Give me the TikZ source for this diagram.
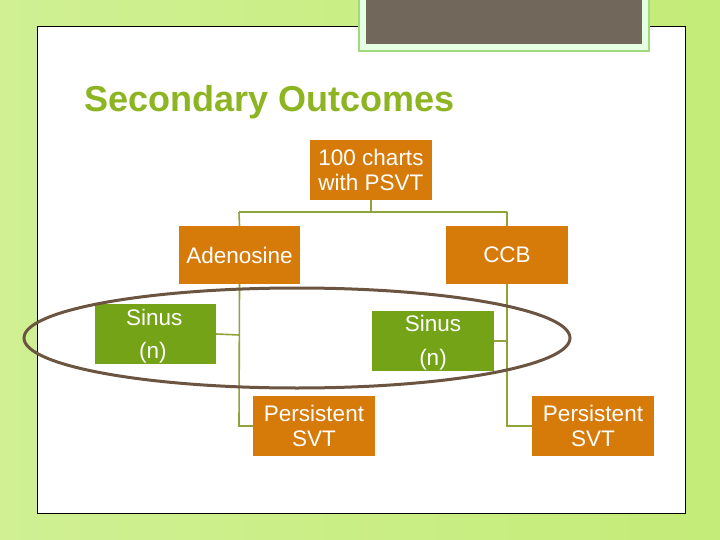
\documentclass[tikz,border=0pt]{standalone}
\usepackage{fontspec}
\setmainfont{Liberation Sans}
\begin{document}
\begin{tikzpicture}[x=1pt,y=-1pt,
  box/.style={fill=orng,text=white,inner sep=0pt,align=center,font=\fontsize{22.5}{25}\selectfont},
  gbox/.style={fill=grn,text=white,inner sep=0pt,align=center,font=\fontsize{22.5}{25}\selectfont},
  lbl/.style={font=\fontsize{22.5}{25}\selectfont,text=white,inner sep=0pt},
  conn/.style={draw=lnc,line width=1.6pt}]
\definecolor{orng}{HTML}{D67A0A}
\definecolor{grn}{HTML}{74A317}
\definecolor{lnc}{HTML}{8EA33A}
\definecolor{bgg}{HTML}{C4EC78}
\definecolor{ttl}{HTML}{8DB421}
\definecolor{dk}{HTML}{71675A}
\definecolor{ell}{HTML}{6B5540}
\useasboundingbox (0,0) rectangle (720,540);
\shade[left color=bgg!80!white,right color=bgg] (0,0) rectangle (720,540);
\fill[white,draw=black,line width=1pt] (37,27) rectangle (685,513);
\fill[lnc!70!green!60!white] (358,-2) rectangle (650,52);
\fill[white!90!green] (360,-2) rectangle (648,50);
\fill[dk] (366,-2) rectangle (642,44);
\node[anchor=west,text=ttl,font=\bfseries\fontsize{36}{40}\selectfont,inner sep=0pt] (title) at (84,102) {Secondary Outcomes};
\node[box,minimum width=122,minimum height=60] (top) at (371,170) {100 charts\\with PSVT};
\node[box,minimum width=121,minimum height=58] (ad) at (239.5,255) {Adenosine};
\node[box,minimum width=122,minimum height=58] (ccb) at (507,255) {CCB};
\node[gbox,minimum width=121,minimum height=60] (s1) at (155.5,334) {};
\node[lbl,anchor=west] (s1a) at (126,317) {Sinus};
\node[lbl,anchor=west] (s1b) at (139,353) {(n)};
\node[gbox,minimum width=122,minimum height=60] (s2) at (433,341) {};
\node[lbl] (s2a) at (433,323) {Sinus};
\node[lbl] (s2b) at (433,360) {(n)};
\node[box,minimum width=122,minimum height=60] (p1) at (314,426) {Persistent\\SVT};
\node[box,minimum width=122,minimum height=60] (p2) at (593,426) {Persistent\\SVT};
\coordinate (j) at (371,212);
\draw[conn] (top.south) -- (j) (239,212) -- (507,212) (239,212) -- (ad.north) (507,212) -- (ccb.north);
\draw[conn] (ad.south) -- (239,426) -- (p1.west) (239,335) -- (s1.east);
\draw[conn] (ccb.south) -- (507,426) -- (p2.west) (507,341) -- (s2.east);
\draw[ell,line width=3pt] (297,338) ellipse [x radius=273,y radius=50];
\end{tikzpicture}
\end{document}
